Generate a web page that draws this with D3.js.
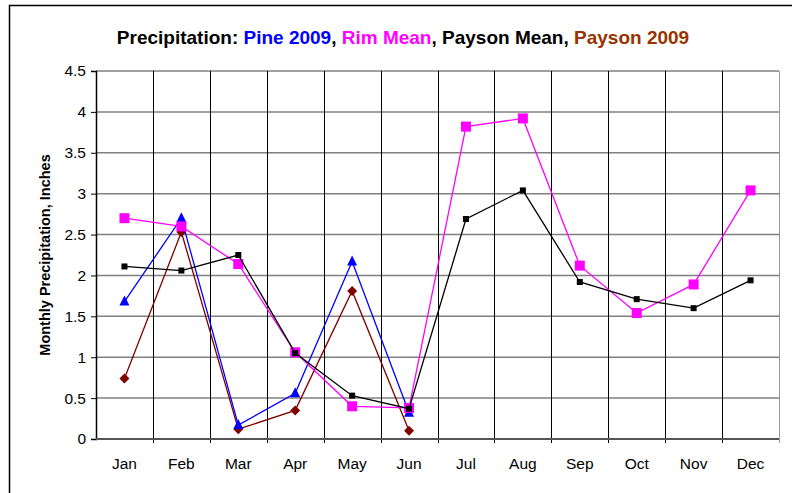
<!DOCTYPE html>
<html>
<head>
<meta charset="utf-8">
<script src="https://cdn.jsdelivr.net/npm/d3@7"></script>
<style>
  body { margin: 0; background: #fff; }
  svg { font-family: "Liberation Sans", Arial, sans-serif; }
</style>
</head>
<body>
<div id="chart"></div>
<script>
// data
const months = ['Jan', 'Feb', 'Mar', 'Apr', 'May', 'Jun', 'Jul', 'Aug', 'Sep', 'Oct', 'Nov', 'Dec'];
const pine2009 = [1.68, 2.70, 0.17, 0.56, 2.17, 0.32];
const rimMean = [2.70, 2.60, 2.14, 1.06, 0.40, 0.38, 3.82, 3.92, 2.12, 1.54, 1.89, 3.04];
const paysonMean = [2.11, 2.06, 2.25, 1.05, 0.53, 0.37, 2.69, 3.04, 1.92, 1.71, 1.60, 1.94];
const payson2009 = [0.74, 2.53, 0.12, 0.35, 1.81, 0.10];
const yTicks = [0, 0.5, 1, 1.5, 2, 2.5, 3, 3.5, 4, 4.5];

const width = 795, height = 493;
const margin = {top: 71, right: 16, bottom: 54, left: 96};

const svg = d3.select('#chart')
    .append('svg')
    .attr('width', width)
    .attr('height', height);

// outer frame (only top and left edges are in view)
svg.append('path')
    .attr('d', 'M9.5,493 V5.5 H792')
    .attr('fill', 'none')
    .attr('stroke', '#000')
    .attr('stroke-width', 1.5);

const x = d3.scaleBand()
    .domain(months)
    .range([margin.left, width - margin.right]);

const y = d3.scaleLinear()
    .domain([0, 4.5])
    .range([height - margin.bottom, margin.top]);

const g = svg.append('g');

// horizontal grid
g.selectAll('.hgrid')
    .data(yTicks)
    .join('line')
    .attr('x1', margin.left)
    .attr('x2', width - margin.right)
    .attr('y1', d => y(d))
    .attr('y2', d => y(d))
    .attr('stroke', '#808080')
    .attr('stroke-width', 1.5);

// vertical grid at category boundaries
g.selectAll('.vgrid')
    .data(months.slice(1))
    .join('line')
    .attr('x1', d => Math.round(x(d)) + 0.5)
    .attr('x2', d => Math.round(x(d)) + 0.5)
    .attr('y1', margin.top)
    .attr('y2', height - margin.bottom + 4)
    .attr('stroke', '#000')
    .attr('stroke-width', 1);

// right border of the plot area
g.append('line')
    .attr('x1', width - margin.right + 0.5)
    .attr('x2', width - margin.right + 0.5)
    .attr('y1', margin.top)
    .attr('y2', height - margin.bottom + 4)
    .attr('stroke', '#999');

// y axis
const yAxis = d3.axisLeft(y)
    .tickValues(yTicks)
    .tickSize(5)
    .tickPadding(5)
    .tickFormat(d => d);

svg.append('g')
    .attr('transform', `translate(${margin.left},0)`)
    .call(yAxis)
    .attr('font-size', null)
    .attr('font-family', null)
    .call(a => a.select('.domain').attr('stroke', '#000').attr('stroke-width', 1.5))
    .call(a => a.selectAll('.tick line').attr('stroke', '#000'))
    .call(a => a.selectAll('text')
        .style('font-size', '15.5px')
        .attr('fill', '#000'));

// x axis line and labels
svg.append('line')
    .attr('x1', margin.left)
    .attr('x2', width - margin.right)
    .attr('y1', y(0))
    .attr('y2', y(0))
    .attr('stroke', '#555')
    .attr('stroke-width', 2);

svg.selectAll('.xlabel')
    .data(months)
    .join('text')
    .attr('x', d => x(d) + x.bandwidth() / 2)
    .attr('y', height - margin.bottom + 30)
    .attr('text-anchor', 'middle')
    .style('font-size', '15.5px')
    .attr('fill', '#000')
    .text(d => d);

// y axis title
svg.append('text')
    .attr('transform', `translate(50,${(margin.top + height - margin.bottom) / 2}) rotate(-90)`)
    .attr('text-anchor', 'middle')
    .style('font-size', '14.5px')
    .attr('font-weight', 'bold')
    .text('Monthly Precipitation, Inches');

// title with coloured series names
const title = svg.append('text')
    .attr('x', 403)
    .attr('y', 44)
    .attr('text-anchor', 'middle')
    .style('font-size', '19px')
    .attr('font-weight', 'bold');

[['Precipitation: ', '#000'], ['Pine 2009', '#0000ff'], [', ', '#000'],
 ['Rim Mean', '#ff00ff'], [', Payson Mean, ', '#000'], ['Payson 2009', '#993300']]
    .forEach(([t, c]) => title.append('tspan').attr('fill', c).text(t));

// series
const line = d3.line()
    .x((d, i) => x(months[i]) + x.bandwidth() / 2)
    .y(d => y(d));

const series = [
    {values: payson2009, color: '#800000', symbol: 'diamond', size: 9},
    {values: pine2009, color: '#0000ff', symbol: 'triangle', size: 10},
    {values: rimMean, color: '#ff00ff', symbol: 'square', size: 10},
    {values: paysonMean, color: '#000000', symbol: 'square', size: 6}
];

series.forEach(s => {
    svg.append('path')
        .datum(s.values)
        .attr('d', line)
        .attr('fill', 'none')
        .attr('stroke', s.color)
        .attr('stroke-width', 1.3);

    const pts = svg.append('g')
        .selectAll('g')
        .data(s.values)
        .join('g')
        .attr('transform', (d, i) => `translate(${x(months[i]) + x.bandwidth() / 2},${y(d)})`);

    if (s.symbol === 'square') {
        pts.append('rect')
            .attr('x', -s.size / 2)
            .attr('y', -s.size / 2)
            .attr('width', s.size)
            .attr('height', s.size)
            .attr('fill', s.color);
    } else if (s.symbol === 'triangle') {
        const h = s.size;
        pts.append('path')
            .attr('d', `M0,${-h * 0.6} L${h / 2},${h * 0.4} L${-h / 2},${h * 0.4} Z`)
            .attr('fill', s.color);
    } else {
        const r = s.size / 2 + 0.5;
        pts.append('path')
            .attr('d', `M0,${-r} L${r},0 L0,${r} L${-r},0 Z`)
            .attr('fill', s.color);
    }
});
</script>
</body>
</html>
